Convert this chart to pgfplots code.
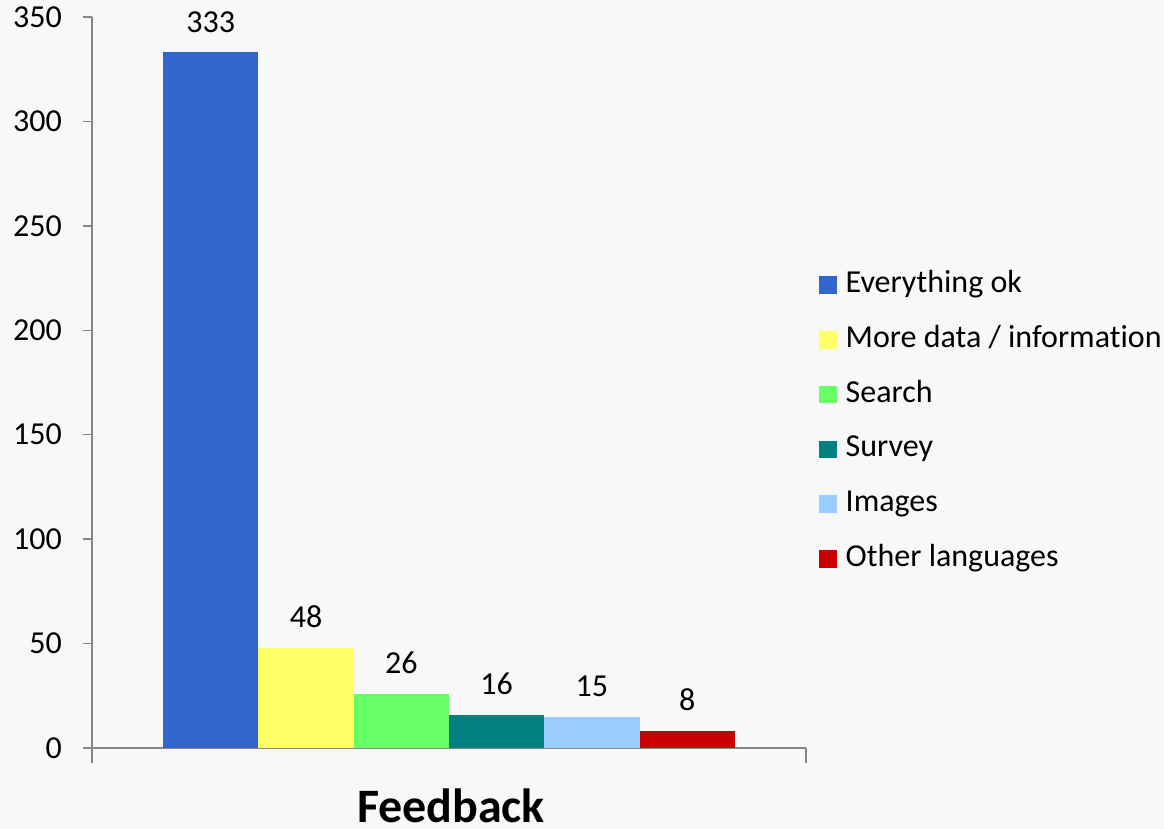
\documentclass[border=0pt]{standalone}
\usepackage{fontspec}
\setmainfont{Carlito}[Ligatures=NoCommon]
\usepackage{pgfplots}
\pgfplotsset{compat=1.18}
\definecolor{bg}{HTML}{F8F8F8}
\definecolor{axisgray}{HTML}{868686}
\definecolor{cA}{HTML}{3366CC}
\definecolor{cB}{HTML}{FFFF66}
\definecolor{cC}{HTML}{66FF66}
\definecolor{cD}{HTML}{008080}
\definecolor{cE}{HTML}{99CCFF}
\definecolor{cF}{HTML}{CC0000}
\newcommand{\chartfont}{\fontsize{32}{38}\selectfont}
\begin{document}
\begin{tikzpicture}
\fill[bg] (-92pt,-81pt) rectangle (1072pt,748pt);
\useasboundingbox (-92pt,-81pt) rectangle (1072pt,748pt);
\begin{axis}[
  at={(0pt,0pt)}, anchor=south west,
  scale only axis, width=714pt, height=731pt,
  ymin=0, ymax=350, ytick={0,50,...,350},
  xmin=-3.745, xmax=3.745,
  xtick=\empty,
  extra x ticks={-3.744,3.744},
  extra x tick labels={},
  extra x tick style={major tick length=15pt},
  axis x line*=bottom, axis y line*=left,
  axis line style={draw=axisgray, line width=1.3pt},
  tick style={draw=axisgray, line width=1.3pt},
  tick align=outside,
  major tick length=9pt,
  /pgf/number format/assume math mode=true,
  yticklabel style={font=\chartfont, anchor=east, inner sep=0pt, xshift=-21pt},
  ybar=0pt, bar width=95.3pt,
  legend image code/.code={\fill[#1] (0pt,-8.85pt) rectangle (17.7pt,8.85pt); \path (26.5pt,0pt);},
  xlabel={Feedback},
  xlabel style={font=\fontsize{48}{57}\selectfont\bfseries, at={(axis description cs:0.5,0)}, anchor=center, inner sep=0pt, yshift=-58pt, xshift=2pt},
  nodes near coords,
  every node near coord/.append style={font=\chartfont, anchor=south, inner sep=0pt, yshift=20pt, text=black},
  clip=false,
  legend style={at={(1,0.45)}, anchor=west, xshift=10pt, yshift=-3pt, draw=none, fill=none,
    font=\chartfont, row sep=25.8pt,
    nodes={text height=22pt, text depth=7pt, inner sep=0pt, outer sep=0pt}},
  legend cell align=left,
]
\addplot[fill=cA, draw=none] coordinates {(0,333)};
\addplot[fill=cB, draw=none] coordinates {(0,48)};
\addplot[fill=cC, draw=none] coordinates {(0,26)};
\addplot[fill=cD, draw=none] coordinates {(0,16)};
\addplot[fill=cE, draw=none] coordinates {(0,15)};
\addplot[fill=cF, draw=none] coordinates {(0,8)};
\legend{Everything ok, More data / information, Search, Survey, Images, Other languages}
\end{axis}
\end{tikzpicture}
\end{document}
